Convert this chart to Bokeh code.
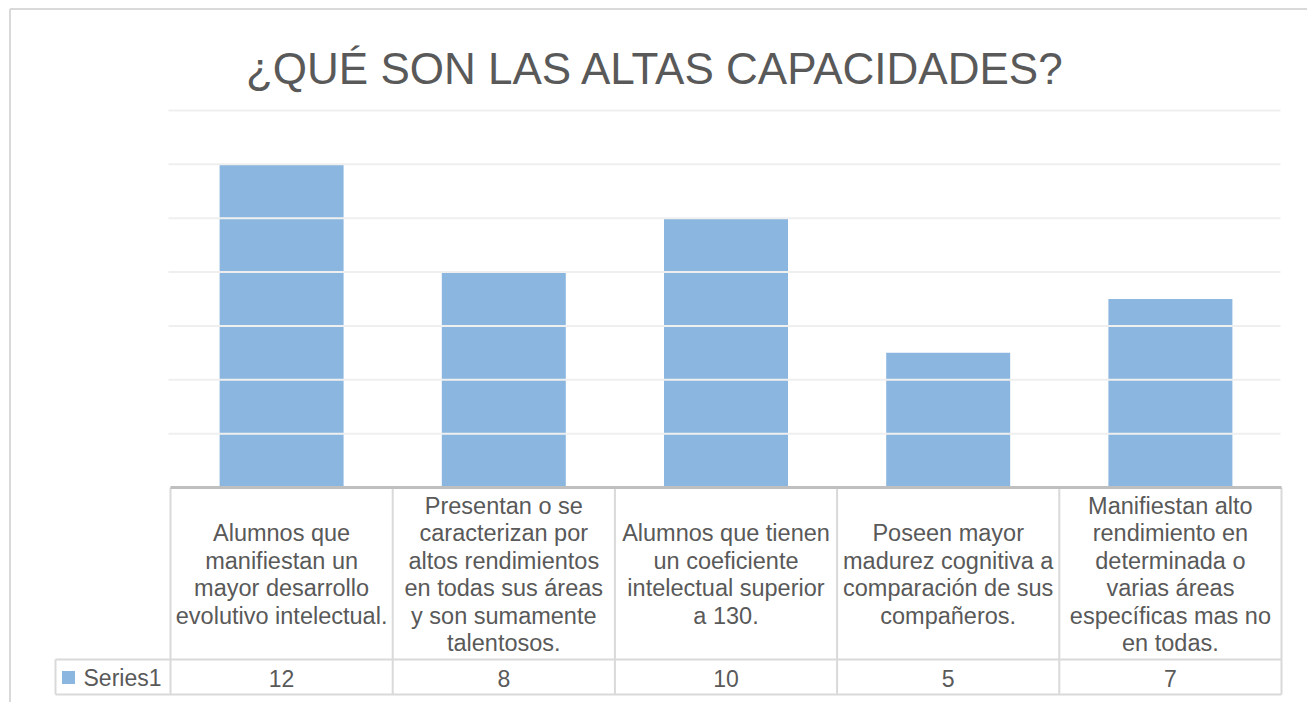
from bokeh.plotting import figure
from bokeh.models import Range1d
from bokeh.core.properties import value
from bokeh.embed import file_html
from bokeh.resources import INLINE

# ---------------- data ----------------
title_text = "¿QUÉ SON LAS ALTAS CAPACIDADES?"
categories = [
    "Alumnos que\nmanifiestan un\nmayor desarrollo\nevolutivo intelectual.",
    "Presentan o se\ncaracterizan por\naltos rendimientos\nen todas sus áreas\ny son sumamente\ntalentosos.",
    "Alumnos que tienen\nun coeficiente\nintelectual superior\na 130.",
    "Poseen mayor\nmadurez cognitiva a\ncomparación de sus\ncompañeros.",
    "Manifiestan alto\nrendimiento en\ndeterminada o\nvarias áreas\nespecíficas mas no\nen todas.",
]
series_name = "Series1"
values = [12, 8, 10, 5, 7]
value_labels = [str(v) for v in values]
gridline_values = [2, 4, 6, 8, 10, 12, 14]
y_max = 14

# ---------------- layout (canvas px) ----------------
W, H = 1307, 702
PL, PR, PT, PB = 170, 1281, 110, 487   # plot area
LEG_L = 55                              # legend column left edge
ROW2 = 659                              # values row top
TB = 694                                # table bottom

TEXT = "#595959"
FONT = value("Liberation Sans")
BAR = "#8BB6E0"
GRID = "#efefef"
TABLE = "#d9d9d9"
AXIS = "#bfbfbf"

n = len(categories)
ux = (PR - PL) / n
uy = (PB - PT) / y_max


def dx(px):
    return (px - PL) / ux


def dy(py):
    return (PB - py) / uy


p = figure(width=W, height=H,
           x_range=Range1d(dx(0), dx(W)), y_range=Range1d(dy(H), dy(0)),
           output_backend="svg", toolbar_location=None,
           x_axis_location=None, y_axis_location=None, min_border=0)
p.outline_line_color = None
p.grid.visible = False
p.background_fill_color = "white"
p.border_fill_color = "white"

xs = [i + 0.5 for i in range(n)]

# chart outer border (left & top)
p.segment(x0=[dx(9.5), dx(9.5)], y0=[dy(8.5), dy(8.5)], x1=[dx(9.5), dx(W)], y1=[dy(H), dy(8.5)],
          line_color="#d9d9d9", line_width=2)

# bars
p.vbar(x=xs, top=values, bottom=0, width=0.558, fill_color=BAR, line_color=None)

# gridlines (drawn over bars)
p.segment(x0=dx(PL - 2), x1=dx(PR - 1), y0=gridline_values, y1=gridline_values,
          line_color=GRID, line_width=2)

# data table lines
vx = list(range(n + 1))
p.segment(x0=vx, x1=vx, y0=[0] * len(vx), y1=[dy(TB)] * len(vx),
          line_color=TABLE, line_width=2)
p.segment(x0=[dx(LEG_L)], x1=[dx(LEG_L)], y0=[dy(ROW2)], y1=[dy(TB)],
          line_color=TABLE, line_width=2)
p.segment(x0=[dx(LEG_L)] * 2, x1=[n] * 2, y0=[dy(ROW2), dy(TB)], y1=[dy(ROW2), dy(TB)],
          line_color=TABLE, line_width=2)

# category axis line
p.segment(x0=[0], x1=[n], y0=[0], y1=[0], line_color=AXIS, line_width=3)

# category labels
p.text(x=xs, y=[dy((PB + ROW2) / 2 + 1)] * n, text=categories,
       text_align="center", text_baseline="middle", text_font=FONT,
       text_font_size="23.5px", text_color=TEXT, text_line_height=1.06)

# values row
p.text(x=xs, y=[dy((ROW2 + TB) / 2 + 1)] * n, text=value_labels,
       text_align="center", text_baseline="middle", text_font=FONT,
       text_font_size="23px", text_color=TEXT)

# legend key
p.scatter(x=[dx(68)], y=[dy((ROW2 + TB) / 2 + 0.5)], marker="square", size=13,
          fill_color=BAR, line_color=None)
p.text(x=[dx(83)], y=[dy((ROW2 + TB) / 2 + 1)], text=[series_name],
       text_align="left", text_baseline="middle", text_font=FONT,
       text_font_size="23px", text_color=TEXT)

# title
p.text(x=[dx(655)], y=[dy(68)], text=[title_text],
       text_align="center", text_baseline="alphabetic", text_font=FONT,
       text_font_size="44px", text_color=TEXT)

open("out.html", "w").write(file_html(p, INLINE))
